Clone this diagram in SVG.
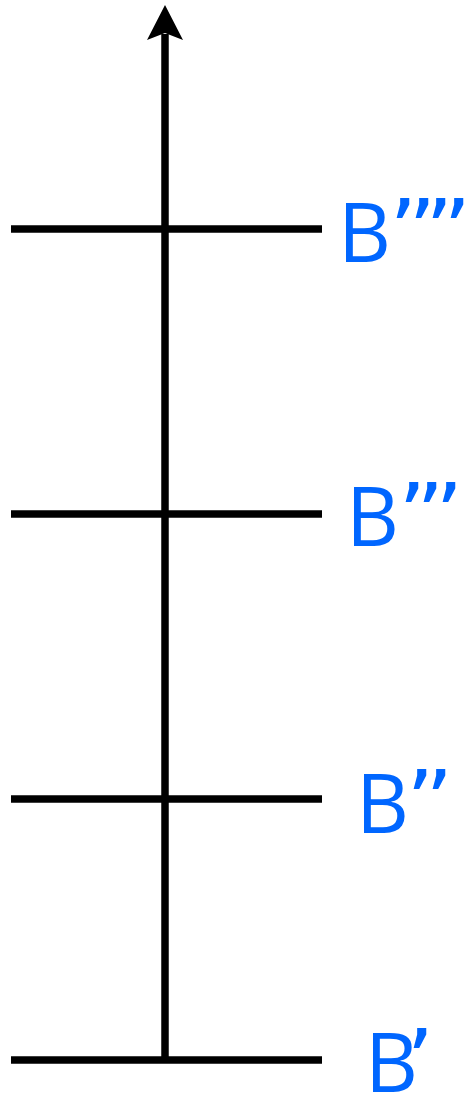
<svg xmlns="http://www.w3.org/2000/svg" width="464" height="1094" viewBox="0 0 464 1094">
<style>
.ln{stroke:#000;stroke-width:7.5;fill:none}
.lb{font-family:"Open Sans","DejaVu Sans",sans-serif;font-size:82px;fill:#0066FF}
.q{font-family:"DejaVu Sans",sans-serif;font-size:88px}
</style>
<g id="connectors">
<line class="ln" x1="165" y1="1058" x2="165" y2="34"/>
<path d="M165,5 L183,40 L165,33 L147,40 Z" fill="#000"/>
</g>
<g id="level1"><line class="ln" x1="11" y1="1060" x2="322" y2="1060"/><text class="lb" y="1092"><tspan x="365">B</tspan><tspan class="q" x="406">’</tspan></text></g>
<g id="level2"><line class="ln" x1="11" y1="799" x2="322" y2="799"/><text class="lb" y="833"><tspan x="356">B</tspan><tspan class="q" x="406 425">’’</tspan></text></g>
<g id="level3"><line class="ln" x1="11" y1="514" x2="322" y2="514"/><text class="lb" y="546"><tspan x="346">B</tspan><tspan class="q" x="398 416 435">’’’</tspan></text></g>
<g id="level4"><line class="ln" x1="11" y1="229" x2="322" y2="229"/><text class="lb" y="262"><tspan x="338">B</tspan><tspan class="q" x="389 408 425 443">’’’’</tspan></text></g>
</svg>
